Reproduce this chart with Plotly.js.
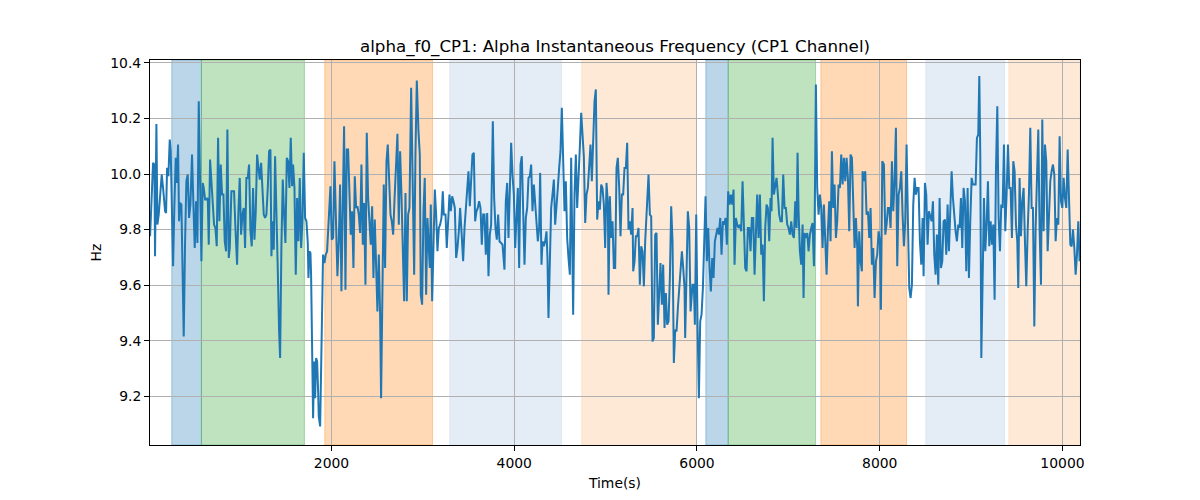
<!DOCTYPE html>
<html>
<head>
<meta charset="utf-8">
<script src="https://cdn.plot.ly/plotly-3.0.1.min.js"></script>
<style>html,body{margin:0;padding:0;background:#fff;}#chart{width:1200px;height:500px;}</style>
</head>
<body>
<div id="chart"></div>
<script>
// Time (s) of each sample
const timeSec = [
15,47.5,62,69,84,95,109.5,120.4,142.3,157,179,190,201,215.3,230,241,252,266.4,281,295.6,306.5,321,332,343,357.6,368.6,383,398,412,427,441.6,456,474,489,503.6,518,533,547.4,562,576.6,591,602,617,631,646,657,671.5,686,700.6,715,730,744.4,759,773.6,788,803,817.4,832,846.6,861,876,887,905,919.6,934,949,967,981.6,996,1011,1025.4,1040,1054.6,1069,1084,1098.4,1113,1127.6,1142,1157,1171.4,1186,1200.5,1215,1230,1244.3,1259,1273.5,1288,1303,1317.3,1332,1343,1354,1368.4,1383,1397.6,1412,1427,1438,1452,1467,1481.5,1496,1511,1525.3,1540,1554.5,1569,1580,1595,1609.3,1624,1638.4,1653,1668,1682.2,1697,1711.4,1726,1741,1748,1759,1770,1777,1788,1799,1810,1821,1832,1843,1854,1861,1876,
1890,1908,1923,1937.6,1952,1974,1989,2003,2018,2032.5,2047,2054,2065,2080,2094.5,2109,2124,2138,2153,2167.5,2182,2197,2211,2226,2240.5,2255,2270,2284,2299,2313.5,2328,2343,2357,2372,2386.4,2401,2416,2430,2445,2459.4,2474,2489,2503,2518,2532.4,2543,2558,2572.5,2587,2602,2616.3,2631,2646,2660,2675,2689.3,2704,2722,2737,2751.3,2766,2781,2795,2810,2824.3,2839,2853.5,2872,2886.3,2905,2919,2934,2952,2966.6,2977.5,2992,3007,3021,3036,3050.5,3065,3076,3087,3102,3116,3131,3145.4,3160,3175,3189,3204,3218.4,3229,3248,3262,3277,3291.4,3306,3321,3335,3350,3364.4,3379,3394,3408,3423,3441,3456,3470,3485,3499.4,3514,3529,3543,3558,3572.4,3587,3601.5,3616,3631,3645.3,3660,3674.5,3689,3704,3718.3,3733,3747.5,3766,3780.4,3795,3809.5,3824,3839,
3872,3883,3893.5,3908,3923,3937.3,3952,3966.5,3981,3996,4010.3,4025,4039.4,4054,4069,4083.2,4098,4112.4,4127,4142,4156.2,4171,4185.4,4200,4215,4229.2,4244,4258.4,4273,4284,4298.5,4309.5,4324,4339,4353.3,4364,4375,4390,4404.3,4419,4434,4448,4463,4477.3,4492,4506.5,4521,4536,4550.3,4565,4579.5,4594,4609,4623.3,4638,4645,4660,4674.4,4689,4703.6,4718,4733,4747.4,4762,4777,4791,4806,4820.4,4835,4849.5,4864,4879,4893.3,4908,4922.5,4937,4952,4966.3,4981,4995.5,5010,5025,5032,5047,5061,5076,5090.4,5105,5119.6,5134,5149,5163.3,5178,5192.5,5207,5222,5236.3,5251,5265.5,5280,5295,5302,5317,5331,5346,5360.4,5375,5390,5404,5419,5433.4,5448,5462.5,5470,5484.5,5499,5513.6,5528,5543,5557.4,5572,5586.6,5601,5616,5630.4,5645,5659.6,5674,5689,5703.4,5718,5732.6,5747,5762,5776.4,5791,5805.6,5820,5835,5849.4,5864,5871,5886,5900.4,5915,
5930,5951.5,5966,5977,5992,6006,6021,6035.4,6050,6065,6079,6094,6108.4,6123,6138,6152,6167,6181.4,6196,6211,6225,6240,6254.4,6269,6284,6298,6313,6327.4,6342,6357,6371,6386,6400.3,6411.3,6426,6440.5,6455,6470,6484.3,6499,6513.5,6528,6543,6557.3,6572,6586.4,6601,6616,6630.2,6645,6659.4,6674,6689,6703.2,6718,6732.4,6747,6761.6,6776,6791,6805.4,6816.3,6827.3,6842,6856.4,6871,6885.6,6900,6915,6929.4,6944,6958.6,6973,6988,7002.4,7017,7031.6,7046,7061,7075.4,7090,7101,7112,7126.5,7141,7156,7166.6,7177.6,7192.2,7207,7221.4,7236,7250.6,7265,7280,7287,7301.6,7316,7331,7345.4,7360,7374.6,7389,7404,7418.4,7433,7447.6,7462,7477,7491.4,7506,7520.6,7535,7550,7564.4,7579,7593.6,7608,7623,7637.4,7652,7666.6,7681,7696,7710.4,7725,7739.6,7754,7761.4,7776,7790.6,7805,7812.5,7827,7841.6,7856,7871,7885.5,7900,7914.6,7929,7944,7958.5,7973,7987.6,8002,
8013,8028,8046,8061,8075,8090,8104.4,8119,8133.6,8148,8163,8177.4,8192,8206.6,8221,8236,8250.3,8265,8279.5,8294,8309,8323.3,8338,8352.5,8367,8382,8396.3,8411,8425.5,8440,8455,8469.3,8480.3,8495,8509.4,8524,8538.6,8553,8568,8582.4,8597,8611.6,8626,8641,8655.4,8670,8684.6,8699,8714,8728.4,8743,8757.6,8772,8787,8801.4,8816,8830.5,8845,8860,8874.3,8889,8903.5,8918,8933,8947.3,8962,8976.5,8991,9006,9020.3,9035,9049.5,9064,9078.6,9090,9100.5,9112,9126,9141,9155.3,9170,9184.5,9199,9214,9228.3,9243,9257.5,9272,9287,9301.3,9316,9330.4,9345,9360,9374.3,9389,9403.4,9418,9432.6,9447,9462,9476.4,9491,9505.6,9516.5,9531,9545.7,9560,9575,9589.5,9604,9619,9633.3,9648,9662.5,9677,9692,9706.3,9721,9735.5,9750,9765,9779.3,9794,9808.5,9823,9838,9852.3,9867,9881.5,9896,9911,9925.3,9940,9954.4,9969,9984,9998.3,10013,10027.4,10042,10057,10071.3,10086,10100.4,10115,10130,10144.3,10159,10173.4,10188
];

// Alpha instantaneous frequency (Hz)
const alphaHz = [
9.776,10.040,10.034,9.704,10.180,9.818,9.854,9.902,9.998,9.950,9.866,9.860,10.022,9.992,10.124,10.082,9.830,9.668,9.890,10.058,9.968,10.106,9.830,9.896,9.890,9.590,9.416,9.758,9.974,9.998,9.842,9.890,10.070,9.890,9.734,9.902,9.752,10.262,9.962,9.686,9.968,9.950,9.908,9.908,9.914,9.746,10.052,9.974,9.890,9.818,9.806,9.740,10.130,9.830,10.034,9.926,9.926,9.758,9.722,10.160,9.698,9.734,9.938,9.938,9.938,9.806,9.674,9.866,9.986,9.782,9.854,9.878,9.734,9.986,9.986,10.034,9.794,9.740,9.950,9.764,9.866,10.070,10.034,9.980,10.040,9.926,9.854,9.842,9.854,9.950,10.082,10.088,9.704,9.830,9.728,10.064,9.890,9.662,9.434,9.338,9.740,9.980,9.854,9.752,10.058,10.046,9.950,10.130,9.956,10.034,9.950,9.638,9.914,9.758,9.986,9.734,9.830,10.076,9.842,9.830,9.752,9.626,9.722,9.716,9.638,9.326,9.122,9.326,9.194,9.338,9.326,9.218,9.128,9.092,
9.410,9.710,9.680,9.710,9.722,9.854,9.956,9.764,9.770,10.046,9.884,9.734,9.632,9.758,9.962,9.578,9.824,10.172,9.584,10.088,10.088,9.914,9.782,9.866,9.662,9.992,9.878,9.884,9.854,9.788,10.034,9.746,9.896,9.602,10.148,9.914,9.842,9.746,9.884,9.626,9.836,9.698,9.506,9.710,9.494,9.194,9.518,9.962,9.662,10.046,10.106,9.950,9.854,9.830,9.782,9.902,10.010,10.145,9.818,10.082,9.926,9.758,9.542,9.932,9.542,9.854,9.878,10.310,9.962,9.638,10.070,10.336,10.154,10.070,9.566,9.530,9.866,9.986,9.566,9.842,9.734,9.662,9.890,9.542,9.734,9.944,9.854,9.722,9.806,9.818,9.842,9.938,9.854,9.854,9.734,9.818,9.926,9.866,9.920,9.902,9.878,9.698,9.734,9.794,9.878,9.794,9.686,9.806,9.878,9.962,10.010,9.884,10.004,10.070,10.076,9.830,9.866,9.878,9.902,9.878,9.746,9.854,9.854,9.710,9.860,9.632,9.782,9.818,10.190,9.914,9.806,9.764,9.854,9.758,
9.746,9.710,9.656,9.902,9.968,9.770,9.962,10.112,9.998,9.926,9.734,9.866,9.950,9.662,10.034,10.064,9.902,9.674,9.842,9.878,9.986,9.992,10.034,9.866,9.962,9.902,9.842,9.758,9.806,10.004,9.674,9.758,9.740,9.758,9.794,9.698,9.482,9.710,9.878,9.926,9.980,9.818,9.908,9.950,10.022,10.082,10.238,10.070,9.866,9.974,9.770,9.698,9.638,10.058,9.758,9.494,9.926,10.070,9.878,9.974,10.094,10.220,10.154,10.064,9.824,9.926,9.950,10.034,10.106,9.974,10.130,10.262,10.304,9.836,9.902,9.872,9.962,9.950,9.890,9.734,9.968,9.896,9.566,9.920,9.770,9.830,9.662,9.662,10.022,10.058,9.950,9.776,9.926,9.926,10.022,10.022,10.112,9.800,9.830,9.782,9.878,9.650,9.686,9.776,9.776,9.806,9.602,9.740,9.722,9.596,9.758,9.866,9.950,9.998,9.854,9.848,9.398,9.410,9.782,9.788,9.458,9.566,9.680,9.530,9.674,9.446,9.572,9.458,9.470,9.626,9.884,9.758,9.320,9.440,9.434,9.518,9.590,9.674,9.722,9.662,9.590,9.410,9.710,9.866,9.806,
9.506,9.602,9.602,9.458,9.854,9.470,9.194,9.470,9.494,9.590,9.806,9.920,9.686,9.806,9.662,9.578,9.698,9.626,9.758,9.782,9.806,9.782,9.842,9.710,9.830,9.818,9.842,9.746,9.938,9.890,9.926,9.890,9.944,9.674,9.842,9.818,9.806,9.818,9.794,9.974,9.794,9.662,9.650,9.806,9.806,9.722,9.842,9.842,9.638,9.794,9.926,9.770,9.926,9.710,9.746,9.542,9.806,9.890,9.878,9.758,9.914,9.866,10.130,9.926,9.950,9.986,9.926,9.854,9.830,9.830,9.998,9.878,9.878,9.818,9.806,9.782,9.830,9.782,9.770,9.902,9.806,10.076,9.866,9.722,9.674,9.818,9.554,9.788,9.770,9.788,9.722,9.782,9.806,9.824,9.668,9.782,10.322,9.950,9.854,9.926,9.878,9.734,9.890,9.758,9.638,9.794,9.902,9.758,10.082,9.878,9.962,9.770,9.830,9.962,9.950,10.070,9.962,10.058,9.974,10.058,9.986,9.794,10.070,10.058,9.902,9.734,9.842,9.734,9.524,9.794,9.686,9.650,10.010,9.974,10.010,9.854,9.866,9.770,9.878,9.674,9.734,9.554,9.686,9.710,9.794,9.758,
9.512,10.046,10.034,9.782,9.818,9.878,9.878,9.806,10.046,9.866,9.974,10.166,9.668,9.926,9.950,10.010,9.854,9.740,9.830,10.106,9.830,9.590,9.554,9.602,9.890,9.986,9.926,9.950,9.950,9.758,9.674,9.842,9.632,9.968,9.926,9.746,9.866,9.842,9.830,9.902,9.710,9.638,9.782,9.602,9.914,9.662,9.686,9.830,9.836,9.710,9.890,9.722,9.842,10.010,9.914,9.842,9.794,9.758,9.818,9.806,9.914,9.734,9.950,9.902,9.650,9.950,9.626,9.830,9.986,9.962,9.962,9.962,10.130,10.142,10.352,10.070,9.338,9.710,9.914,9.722,9.818,9.974,9.740,9.830,9.746,9.818,9.548,10.010,10.244,9.842,9.722,9.890,9.878,10.106,9.794,9.926,10.106,9.950,9.950,9.770,10.046,10.010,9.818,9.758,9.590,9.986,9.776,9.902,9.950,9.758,9.596,9.794,9.926,10.166,9.878,9.878,9.452,9.806,9.998,10.160,9.800,9.602,10.196,9.794,10.106,10.046,9.722,9.866,9.974,10.010,10.034,9.998,9.758,9.842,9.818,10.136,9.902,9.878,9.986,9.914,9.878,10.088,9.914,9.746,9.740,9.800,9.734,9.638,9.710,9.830,9.686
];

// Shaded epochs (s) and their kind
const spanStart = [252, 577, 1927, 3295, 4740, 6097, 6342, 7356, 8505, 9414];
const spanEnd   = [577, 1704, 3106, 4518, 5993, 6342, 7298, 8294, 9367, 10188];
const spanKind  = ['blue','green','orange','lightblue','lightorange','blue','green','orange','lightblue','lightorange'];

const yTicks = [9.2, 9.4, 9.6, 9.8, 10.0, 10.2, 10.4];
const xTicks = [2000, 4000, 6000, 8000, 10000];

const kindStyle = {
  blue:        {fill: 'rgba(31,119,180,0.3)',  line: 'rgba(31,119,180,0.35)'},
  green:       {fill: 'rgba(44,160,44,0.3)',   line: 'rgba(44,160,44,0.35)'},
  orange:      {fill: 'rgba(255,127,14,0.3)',  line: 'rgba(255,127,14,0.35)'},
  lightblue:   {fill: 'rgb(228,236,246)',      line: 'rgb(222,232,244)'},
  lightorange: {fill: 'rgb(254,233,215)',      line: 'rgb(252,226,204)'}
};

const shapes = spanStart.map((s, i) => ({
  type: 'rect', xref: 'x', yref: 'paper', x0: s, x1: spanEnd[i], y0: 0, y1: 1,
  fillcolor: kindStyle[spanKind[i]].fill,
  line: {color: kindStyle[spanKind[i]].line, width: 1},
  layer: 'below'
}));

const font = 'DejaVu Sans, Liberation Sans, sans-serif';

const trace = {
  x: timeSec, y: alphaHz, type: 'scatter', mode: 'lines',
  line: {color: '#1f77b4', width: 2}, hoverinfo: 'skip'
};

const layout = {
  width: 1200, height: 500,
  paper_bgcolor: '#fff', plot_bgcolor: '#fff',
  margin: {l: 150, r: 120, t: 60, b: 55},
  showlegend: false,
  font: {family: font, size: 13.9, color: '#000'},
  title: {text: 'alpha_f0_CP1: Alpha Instantaneous Frequency (CP1 Channel)',
          font: {family: font, size: 16.7, color: '#000'},
          x: 0.5125, xref: 'container', xanchor: 'center', y: 0.908, yref: 'container', yanchor: 'middle'},
  xaxis: {
    range: [14, 10192], tickvals: xTicks, ticktext: xTicks.map(String),
    showgrid: true, gridcolor: '#b0b0b0', gridwidth: 1,
    showline: true, mirror: true, linecolor: '#000', linewidth: 1,
    ticks: 'outside', ticklen: 5, tickcolor: '#000', zeroline: false,
    title: {text: 'Time(s)', font: {family: font, size: 13.9, color: '#000'}, standoff: 8}
  },
  yaxis: {
    range: [9.0254, 10.41], tickvals: yTicks, ticktext: yTicks.map(v => v.toFixed(1)),
    showgrid: true, gridcolor: '#b0b0b0', gridwidth: 1,
    showline: true, mirror: true, linecolor: '#000', linewidth: 1,
    ticks: 'outside', ticklen: 5, tickcolor: '#000', zeroline: false,
    title: {text: 'Hz', font: {family: font, size: 13.9, color: '#000'}, standoff: 5}
  },
  shapes: shapes
};

Plotly.newPlot('chart', [trace], layout, {staticPlot: true, displayModeBar: false});
</script>
</body>
</html>
